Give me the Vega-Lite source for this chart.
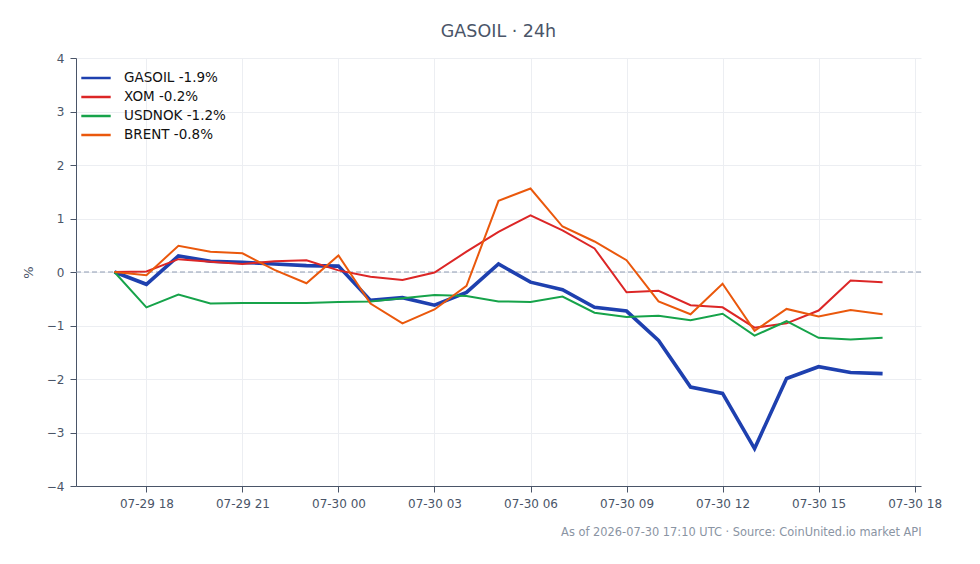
{
  "width": 845,
  "height": 428,
  "padding": 22,
  "title": {
    "text": "GASOIL · 24h",
    "fontSize": 17.5,
    "fontWeight": "normal",
    "color": "#4a5568",
    "anchor": "middle",
    "offset": 12
  },
  "config": {
    "font": "DejaVu Sans",
    "view": {"stroke": null},
    "axis": {
      "labelFontSize": 12,
      "labelColor": "#4a5568",
      "titleColor": "#4a5568",
      "titleFontWeight": "normal",
      "domainColor": "#4a5568",
      "tickColor": "#4a5568",
      "gridColor": "#eceef2",
      "tickSize": 6,
      "labelPadding": 6
    }
  },
  "data": {
    "values": [
      {"t": "2026-07-29T17:00:00Z", "s": "GASOIL -1.9%", "v": 0},
      {"t": "2026-07-29T18:00:00Z", "s": "GASOIL -1.9%", "v": -0.23},
      {"t": "2026-07-29T19:00:00Z", "s": "GASOIL -1.9%", "v": 0.30},
      {"t": "2026-07-29T20:00:00Z", "s": "GASOIL -1.9%", "v": 0.20},
      {"t": "2026-07-29T21:00:00Z", "s": "GASOIL -1.9%", "v": 0.18},
      {"t": "2026-07-29T22:00:00Z", "s": "GASOIL -1.9%", "v": 0.15},
      {"t": "2026-07-29T23:00:00Z", "s": "GASOIL -1.9%", "v": 0.12},
      {"t": "2026-07-30T00:00:00Z", "s": "GASOIL -1.9%", "v": 0.11},
      {"t": "2026-07-30T01:00:00Z", "s": "GASOIL -1.9%", "v": -0.53},
      {"t": "2026-07-30T02:00:00Z", "s": "GASOIL -1.9%", "v": -0.48},
      {"t": "2026-07-30T03:00:00Z", "s": "GASOIL -1.9%", "v": -0.62},
      {"t": "2026-07-30T04:00:00Z", "s": "GASOIL -1.9%", "v": -0.38},
      {"t": "2026-07-30T05:00:00Z", "s": "GASOIL -1.9%", "v": 0.15},
      {"t": "2026-07-30T06:00:00Z", "s": "GASOIL -1.9%", "v": -0.19},
      {"t": "2026-07-30T07:00:00Z", "s": "GASOIL -1.9%", "v": -0.33},
      {"t": "2026-07-30T08:00:00Z", "s": "GASOIL -1.9%", "v": -0.66},
      {"t": "2026-07-30T09:00:00Z", "s": "GASOIL -1.9%", "v": -0.73},
      {"t": "2026-07-30T10:00:00Z", "s": "GASOIL -1.9%", "v": -1.28},
      {"t": "2026-07-30T11:00:00Z", "s": "GASOIL -1.9%", "v": -2.15},
      {"t": "2026-07-30T12:00:00Z", "s": "GASOIL -1.9%", "v": -2.27},
      {"t": "2026-07-30T13:00:00Z", "s": "GASOIL -1.9%", "v": -3.30},
      {"t": "2026-07-30T14:00:00Z", "s": "GASOIL -1.9%", "v": -1.99},
      {"t": "2026-07-30T15:00:00Z", "s": "GASOIL -1.9%", "v": -1.77},
      {"t": "2026-07-30T16:00:00Z", "s": "GASOIL -1.9%", "v": -1.88},
      {"t": "2026-07-30T17:00:00Z", "s": "GASOIL -1.9%", "v": -1.90},
      {"t": "2026-07-29T17:00:00Z", "s": "XOM -0.2%", "v": 0},
      {"t": "2026-07-29T18:00:00Z", "s": "XOM -0.2%", "v": 0.01},
      {"t": "2026-07-29T19:00:00Z", "s": "XOM -0.2%", "v": 0.24},
      {"t": "2026-07-29T20:00:00Z", "s": "XOM -0.2%", "v": 0.19},
      {"t": "2026-07-29T21:00:00Z", "s": "XOM -0.2%", "v": 0.15},
      {"t": "2026-07-29T22:00:00Z", "s": "XOM -0.2%", "v": 0.20},
      {"t": "2026-07-29T23:00:00Z", "s": "XOM -0.2%", "v": 0.22},
      {"t": "2026-07-30T00:00:00Z", "s": "XOM -0.2%", "v": 0.03},
      {"t": "2026-07-30T01:00:00Z", "s": "XOM -0.2%", "v": -0.09},
      {"t": "2026-07-30T02:00:00Z", "s": "XOM -0.2%", "v": -0.15},
      {"t": "2026-07-30T03:00:00Z", "s": "XOM -0.2%", "v": -0.01},
      {"t": "2026-07-30T04:00:00Z", "s": "XOM -0.2%", "v": 0.38},
      {"t": "2026-07-30T05:00:00Z", "s": "XOM -0.2%", "v": 0.75},
      {"t": "2026-07-30T06:00:00Z", "s": "XOM -0.2%", "v": 1.06},
      {"t": "2026-07-30T07:00:00Z", "s": "XOM -0.2%", "v": 0.78},
      {"t": "2026-07-30T08:00:00Z", "s": "XOM -0.2%", "v": 0.44},
      {"t": "2026-07-30T09:00:00Z", "s": "XOM -0.2%", "v": -0.38},
      {"t": "2026-07-30T10:00:00Z", "s": "XOM -0.2%", "v": -0.35},
      {"t": "2026-07-30T11:00:00Z", "s": "XOM -0.2%", "v": -0.62},
      {"t": "2026-07-30T12:00:00Z", "s": "XOM -0.2%", "v": -0.66},
      {"t": "2026-07-30T13:00:00Z", "s": "XOM -0.2%", "v": -1.04},
      {"t": "2026-07-30T14:00:00Z", "s": "XOM -0.2%", "v": -0.96},
      {"t": "2026-07-30T15:00:00Z", "s": "XOM -0.2%", "v": -0.72},
      {"t": "2026-07-30T16:00:00Z", "s": "XOM -0.2%", "v": -0.16},
      {"t": "2026-07-30T17:00:00Z", "s": "XOM -0.2%", "v": -0.19},
      {"t": "2026-07-29T17:00:00Z", "s": "USDNOK -1.2%", "v": 0},
      {"t": "2026-07-29T18:00:00Z", "s": "USDNOK -1.2%", "v": -0.66},
      {"t": "2026-07-29T19:00:00Z", "s": "USDNOK -1.2%", "v": -0.42},
      {"t": "2026-07-29T20:00:00Z", "s": "USDNOK -1.2%", "v": -0.59},
      {"t": "2026-07-29T21:00:00Z", "s": "USDNOK -1.2%", "v": -0.58},
      {"t": "2026-07-29T22:00:00Z", "s": "USDNOK -1.2%", "v": -0.58},
      {"t": "2026-07-29T23:00:00Z", "s": "USDNOK -1.2%", "v": -0.58},
      {"t": "2026-07-30T00:00:00Z", "s": "USDNOK -1.2%", "v": -0.56},
      {"t": "2026-07-30T01:00:00Z", "s": "USDNOK -1.2%", "v": -0.55},
      {"t": "2026-07-30T02:00:00Z", "s": "USDNOK -1.2%", "v": -0.49},
      {"t": "2026-07-30T03:00:00Z", "s": "USDNOK -1.2%", "v": -0.43},
      {"t": "2026-07-30T04:00:00Z", "s": "USDNOK -1.2%", "v": -0.45},
      {"t": "2026-07-30T05:00:00Z", "s": "USDNOK -1.2%", "v": -0.55},
      {"t": "2026-07-30T06:00:00Z", "s": "USDNOK -1.2%", "v": -0.56},
      {"t": "2026-07-30T07:00:00Z", "s": "USDNOK -1.2%", "v": -0.46},
      {"t": "2026-07-30T08:00:00Z", "s": "USDNOK -1.2%", "v": -0.76},
      {"t": "2026-07-30T09:00:00Z", "s": "USDNOK -1.2%", "v": -0.84},
      {"t": "2026-07-30T10:00:00Z", "s": "USDNOK -1.2%", "v": -0.82},
      {"t": "2026-07-30T11:00:00Z", "s": "USDNOK -1.2%", "v": -0.90},
      {"t": "2026-07-30T12:00:00Z", "s": "USDNOK -1.2%", "v": -0.78},
      {"t": "2026-07-30T13:00:00Z", "s": "USDNOK -1.2%", "v": -1.19},
      {"t": "2026-07-30T14:00:00Z", "s": "USDNOK -1.2%", "v": -0.92},
      {"t": "2026-07-30T15:00:00Z", "s": "USDNOK -1.2%", "v": -1.23},
      {"t": "2026-07-30T16:00:00Z", "s": "USDNOK -1.2%", "v": -1.26},
      {"t": "2026-07-30T17:00:00Z", "s": "USDNOK -1.2%", "v": -1.23},
      {"t": "2026-07-29T17:00:00Z", "s": "BRENT -0.8%", "v": 0},
      {"t": "2026-07-29T18:00:00Z", "s": "BRENT -0.8%", "v": -0.06},
      {"t": "2026-07-29T19:00:00Z", "s": "BRENT -0.8%", "v": 0.49},
      {"t": "2026-07-29T20:00:00Z", "s": "BRENT -0.8%", "v": 0.38},
      {"t": "2026-07-29T21:00:00Z", "s": "BRENT -0.8%", "v": 0.35},
      {"t": "2026-07-29T22:00:00Z", "s": "BRENT -0.8%", "v": 0.04},
      {"t": "2026-07-29T23:00:00Z", "s": "BRENT -0.8%", "v": -0.21},
      {"t": "2026-07-30T00:00:00Z", "s": "BRENT -0.8%", "v": 0.31},
      {"t": "2026-07-30T01:00:00Z", "s": "BRENT -0.8%", "v": -0.59},
      {"t": "2026-07-30T02:00:00Z", "s": "BRENT -0.8%", "v": -0.96},
      {"t": "2026-07-30T03:00:00Z", "s": "BRENT -0.8%", "v": -0.70},
      {"t": "2026-07-30T04:00:00Z", "s": "BRENT -0.8%", "v": -0.26},
      {"t": "2026-07-30T05:00:00Z", "s": "BRENT -0.8%", "v": 1.33},
      {"t": "2026-07-30T06:00:00Z", "s": "BRENT -0.8%", "v": 1.56},
      {"t": "2026-07-30T07:00:00Z", "s": "BRENT -0.8%", "v": 0.85},
      {"t": "2026-07-30T08:00:00Z", "s": "BRENT -0.8%", "v": 0.57},
      {"t": "2026-07-30T09:00:00Z", "s": "BRENT -0.8%", "v": 0.22},
      {"t": "2026-07-30T10:00:00Z", "s": "BRENT -0.8%", "v": -0.55},
      {"t": "2026-07-30T11:00:00Z", "s": "BRENT -0.8%", "v": -0.79},
      {"t": "2026-07-30T12:00:00Z", "s": "BRENT -0.8%", "v": -0.22},
      {"t": "2026-07-30T13:00:00Z", "s": "BRENT -0.8%", "v": -1.10},
      {"t": "2026-07-30T14:00:00Z", "s": "BRENT -0.8%", "v": -0.69},
      {"t": "2026-07-30T15:00:00Z", "s": "BRENT -0.8%", "v": -0.83},
      {"t": "2026-07-30T16:00:00Z", "s": "BRENT -0.8%", "v": -0.71},
      {"t": "2026-07-30T17:00:00Z", "s": "BRENT -0.8%", "v": -0.79}
    ]
  },
  "encoding": {
    "x": {
      "field": "t",
      "type": "temporal",
      "scale": {"domain": [1785340080000, 1785435120000]},
      "axis": {
        "format": "%m-%d %H",
        "tickCount": 9,
        "title": "As of 2026-07-30 17:10 UTC · Source: CoinUnited.io market API",
        "titleFontSize": 11.4,
        "titleColor": "#8a94a3",
        "titleAnchor": "end",
        "titlePadding": 17
      }
    },
    "y": {
      "field": "v",
      "type": "quantitative",
      "scale": {"domain": [-4, 4]},
      "axis": {"title": "%", "titleFontSize": 13, "titlePadding": 11, "tickCount": 8}
    },
    "color": {
      "field": "s",
      "type": "nominal",
      "scale": {
        "domain": ["GASOIL -1.9%", "XOM -0.2%", "USDNOK -1.2%", "BRENT -0.8%"],
        "range": ["#1e40af", "#dc2626", "#16a34a", "#ea580c"]
      },
      "legend": {
        "title": null,
        "orient": "top-left",
        "offset": 8,
        "symbolType": "M-1.4,0H1.4",
        "symbolSize": 441,
        "symbolStrokeWidth": 2.5,
        "labelOffset": 16,
        "labelFontSize": 13.5,
        "labelColor": "#111111",
        "rowPadding": 0
      }
    }
  },
  "layer": [
    {
      "data": {"values": [{"z": 0}]},
      "mark": {"type": "rule", "color": "#8e9bb2", "strokeDash": [5, 3], "strokeWidth": 1},
      "encoding": {
        "x": null,
        "color": null,
        "y": {"field": "z", "type": "quantitative"}
      }
    },
    {
      "transform": [{"filter": "datum.s === 'GASOIL -1.9%'"}],
      "mark": {"type": "line", "strokeWidth": 3.6}
    },
    {
      "transform": [{"filter": "datum.s !== 'GASOIL -1.9%'"}],
      "mark": {"type": "line", "strokeWidth": 2}
    }
  ]
}
